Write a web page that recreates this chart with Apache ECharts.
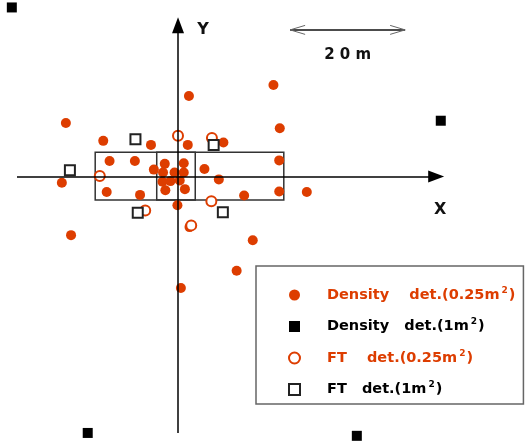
<!DOCTYPE html>
<html>
<head>
<meta charset="utf-8">
<script src="https://cdn.jsdelivr.net/npm/echarts@6/dist/echarts.min.js"></script>
<style>
  html, body { margin: 0; padding: 0; background: #fff; }
  #chart { width: 525px; height: 443px; }
</style>
</head>
<body>
<div id="chart"></div>
<script>
  // positions in metres, origin at the crossing of the X / Y lines
  const densitySmall = [
    [16.6, 15.9], [1.9, 14.0], [-19.5, 9.3], [17.7, 8.4], [-13.0, 6.2], [-4.7, 5.5],
    [1.7, 5.5], [7.9, 5.9], [-11.9, 2.7], [-7.5, 2.7], [-2.3, 2.2], [1.0, 2.3],
    [17.6, 2.8], [-4.2, 1.2], [-2.6, 0.7], [-0.6, 0.7], [1.0, 0.7], [4.6, 1.3],
    [-20.2, -1.1], [-2.7, -0.9], [-1.3, -0.8], [0.3, -0.7], [7.1, -0.5], [-2.2, -2.4],
    [1.2, -2.2], [-12.4, -2.7], [-6.6, -3.2], [11.5, -3.3], [17.6, -2.6], [22.4, -2.7],
    [-0.1, -5.0], [-18.6, -10.2], [2.0, -8.8], [13.0, -11.1], [10.2, -16.4], [0.5, -19.4]
  ]
  const densityLarge = [[-28.9, 29.4], [45.7, 9.7], [-15.7, -44.6], [31.1, -45.1]]
  const ftSmall = [[0.0, 7.1], [5.9, 6.7], [-13.6, 0.1], [-5.7, -5.9], [5.8, -4.3], [2.3, -8.5]]
  const ftLarge = [[-7.4, 6.5], [6.2, 5.5], [-18.8, 1.1], [-7.0, -6.3], [7.8, -6.2]]

  // plot outlines [x1, y1, x2, y2]
  const plots = [[-14.4, -4.1, 18.4, 4.2], [-3.7, -4.1, 3.0, 4.2]]
  // axis lines [from, to] and scale bar
  const xLine = [-28.0, 44.9]
  const yLine = [-44.6, 26.3]
  const scaleBar = [19.5, 39.5, 25.5]

  const seriesNames = ['d025', 'd1', 'f025', 'f1']
  const legendTexts = [
    ['Density', '    det.(0.25m', '2', ')'],
    ['Density', '   det.(1m', '2', ')'],
    ['FT', '    det.(0.25m', '2', ')'],
    ['FT', '   det.(1m', '2', ')']
  ]

  const RED = '#dd3d00'
  const chart = echarts.init(document.getElementById('chart'))

  chart.setOption({
    animation: false,
    grid: {left: 5.5, right: 2, top: 4, bottom: 2},
    xAxis: {type: 'value', min: -30, max: 60, show: false},
    yAxis: {type: 'value', min: -46, max: 30, show: false},
    legend: {
      orient: 'vertical',
      left: 256,
      top: 266,
      padding: [20, 8, 7, 32],
      itemGap: 15,
      itemWidth: 11,
      itemHeight: 11,
      borderColor: '#666',
      borderWidth: 1.5,
      data: [
        {name: 'd025', textStyle: {color: RED}},
        {name: 'd1', textStyle: {color: '#000'}},
        {name: 'f025', textStyle: {color: RED}, itemStyle: {borderWidth: 1}},
        {name: 'f1', textStyle: {color: '#000'}, itemStyle: {borderWidth: 1.2}}
      ],
      formatter: function (name) {
        let t = legendTexts[seriesNames.indexOf(name)]
        return '{a|' + t[0] + '}{a|' + t[1] + '}{s|' + t[2] + '}{a|' + t[3] + '}'
      },
      textStyle: {
        fontFamily: 'DejaVu Sans',
        fontWeight: 'bold',
        fontSize: 14.5,
        padding: [0, 0, 0, 22],
        rich: {
          a: {fontFamily: 'DejaVu Sans', fontWeight: 'bold', fontSize: 14.5, height: 18, verticalAlign: 'bottom'},
          s: {fontFamily: 'DejaVu Sans', fontWeight: 'bold', fontSize: 9, verticalAlign: 'top', padding: [0, 1, 9, 2]}
        }
      }
    },
    series: [
      {
        name: 'd025', type: 'scatter', data: densitySmall, symbol: 'circle', symbolSize: 10,
        itemStyle: {color: RED, opacity: 1}, clip: false, z: 2
      },
      {
        name: 'd1', type: 'scatter', data: densityLarge, symbol: 'rect', symbolSize: 10,
        itemStyle: {color: '#000', opacity: 1}, clip: false, z: 2
      },
      {
        name: 'f025', type: 'scatter', data: ftSmall, symbol: 'emptyCircle', symbolSize: 10,
        itemStyle: {color: RED, borderWidth: 1, opacity: 1}, clip: false, z: 2
      },
      {
        name: 'f1', type: 'scatter', data: ftLarge, symbol: 'emptyRect', symbolSize: 10,
        itemStyle: {color: '#222', borderWidth: 1.5, opacity: 1}, clip: false, z: 2
      },
      {
        name: 'frame', type: 'scatter', data: [], z: 5,
        markArea: {
          silent: true,
          itemStyle: {color: 'rgba(0,0,0,0)', borderColor: '#333', borderWidth: 1.5},
          data: plots.map(p => [{coord: [p[0], p[1]]}, {coord: [p[2], p[3]]}])
        },
        markLine: {
          silent: true,
          symbol: ['none', 'triangle'],
          symbolSize: [12, 16],
          label: {show: false},
          lineStyle: {color: '#000', width: 1.5, type: 'solid'},
          data: [
            [{coord: [xLine[0], 0]}, {coord: [xLine[1], 0]}],
            [{coord: [0, yLine[0]]}, {coord: [0, yLine[1]]}]
          ]
        }
      }
    ]
  })

  function drawExtras() {
    let a = chart.convertToPixel({gridIndex: 0}, [scaleBar[0], scaleBar[2]])
    let b = chart.convertToPixel({gridIndex: 0}, [scaleBar[1], scaleBar[2]])
    let yl = chart.convertToPixel({gridIndex: 0}, [0, yLine[1]])
    let xl = chart.convertToPixel({gridIndex: 0}, [xLine[1], 0])
    let head = 15, half = 4.5
    chart.setOption({
      graphic: [
        {type: 'line', shape: {x1: a[0], y1: a[1], x2: b[0], y2: b[1]}, style: {stroke: '#111', lineWidth: 1.5}},
        {type: 'polyline', shape: {points: [[a[0] + head, a[1] - half], [a[0], a[1]], [a[0] + head, a[1] + half]]}, style: {stroke: '#666', lineWidth: 1, fill: null}},
        {type: 'polyline', shape: {points: [[b[0] - head, b[1] - half], [b[0], b[1]], [b[0] - head, b[1] + half]]}, style: {stroke: '#666', lineWidth: 1, fill: null}},
        {type: 'text', x: (a[0] + b[0]) / 2, y: a[1] + 25, style: {text: '2 0 m', fontFamily: 'DejaVu Sans', fontWeight: 'bold', fontSize: 15, fill: '#111', align: 'center', verticalAlign: 'middle'}},
        {type: 'text', x: yl[0] + 25, y: yl[1] + 5, style: {text: 'Y', fontFamily: 'DejaVu Sans', fontWeight: 'bold', fontSize: 16, fill: '#111', align: 'center', verticalAlign: 'middle'}},
        {type: 'text', x: xl[0] + 4, y: xl[1] + 33, style: {text: 'X', fontFamily: 'DejaVu Sans', fontWeight: 'bold', fontSize: 16, fill: '#111', align: 'center', verticalAlign: 'middle'}}
      ]
    })
  }
  drawExtras()
</script>
</body>
</html>
